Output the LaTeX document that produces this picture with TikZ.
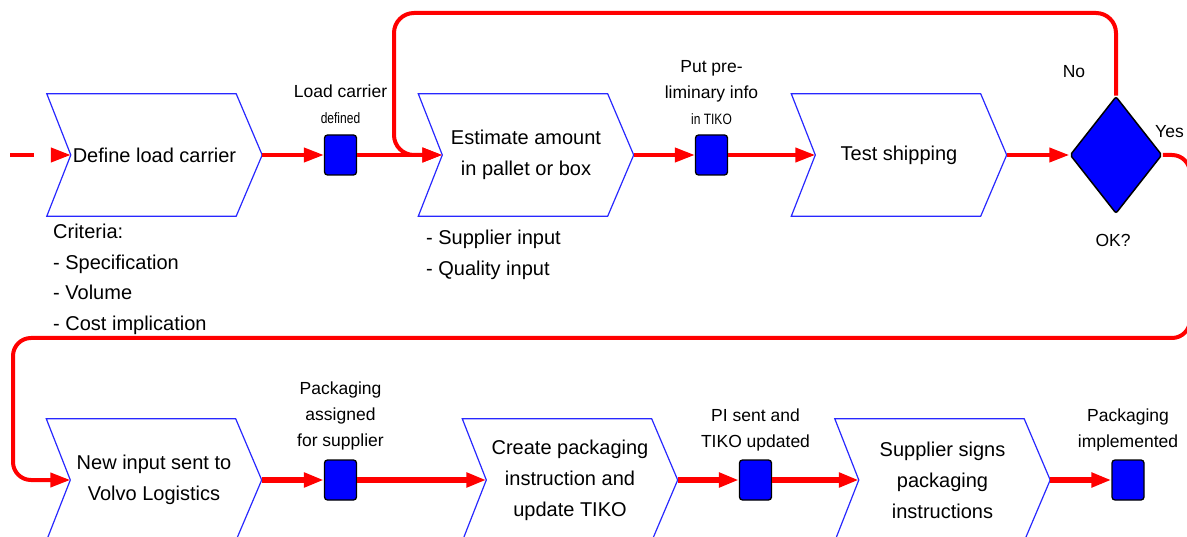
\documentclass[tikz,border=0pt]{standalone}
\usepackage{fontspec}
\usepackage{graphicx}
\setmainfont{Liberation Sans}
\usetikzlibrary{arrows.meta,shapes.geometric}

\definecolor{flowred}{RGB}{255,0,0}
\definecolor{stepblue}{RGB}{0,0,255}
\definecolor{chevblue}{RGB}{40,40,255}

% narrow small line used under some event labels
\newcommand\narrowline[1]{{\fontsize{15}{16}\selectfont\scalebox{0.8}[1]{#1}}}

\tikzset{
  chevtext/.style={minimum width=215pt, minimum height=122pt, inner sep=0pt,
    align=center, font=\fontsize{20}{31}\selectfont},
  chevline/.style={draw=chevblue, line width=1.2pt, line join=miter},
  event/.style={draw=black, fill=stepblue, line width=1.3pt, rounded corners=3pt,
    minimum width=32pt, minimum height=40pt, inner sep=0pt},
  decision/.style={diamond, draw=black, fill=stepblue, line width=1.5pt,
    minimum width=92pt, minimum height=117pt, inner sep=0pt, rounded corners=2pt},
  flow/.style={draw=flowred, line width=4pt, -{Triangle[length=20pt,width=14pt]}},
  flowthick/.style={flow, line width=6pt},
  lbl/.style={font=\fontsize{17.5}{26}\selectfont, align=center, inner sep=0pt},
  note/.style={font=\fontsize{20}{30.5}\selectfont, align=left, inner sep=0pt},
}

% a process step: text node framed by a chevron, with an entry point in its notch
\newcommand\procstep[4]{%
  \node[chevtext] (#1) at (#2,#3) {#4};
  \draw[chevline] (#1.north west) -- ([xshift=-26pt]#1.north east) -- (#1.east)
    -- ([xshift=-26pt]#1.south east) -- (#1.south west) -- ([xshift=24pt]#1.west) -- cycle;
  \coordinate (#1-in) at ([xshift=24pt]#1.west);
}

\begin{document}
\begin{tikzpicture}[x=1pt,y=-1pt]
\useasboundingbox (0,0) rectangle (1187,537);
\clip (0,0) rectangle (1187,537);

% process steps
\procstep{def}{154.5}{155}{Define load carrier}
\procstep{est}{526}{155}{Estimate amount\\in pallet or box}
\procstep{test}{899}{155}{Test shipping}
\procstep{newin}{154}{480}{New input sent to\\Volvo Logistics}
\procstep{create}{570}{480}{Create packaging\\instruction and\\update TIKO}
\procstep{sign}{942.5}{480}{Supplier signs\\packaging\\instructions}

% events
\node[event] (ev1) at (340.5,155) {};
\node[event] (ev2) at (711.5,155) {};
\node[event] (ev3) at (340.5,480) {};
\node[event] (ev4) at (755.5,480) {};
\node[event] (ev5) at (1128,480) {};

% decision
\node[decision] (ok) at (1116,155) {};

% event labels
\node[lbl, anchor=south] (l1) at ([yshift=11pt]ev1.north)
  {Load carrier\\\narrowline{defined}};
\node[lbl, anchor=south] (l2) at ([yshift=10pt]ev2.north)
  {Put pre-\\liminary info\\\narrowline{in TIKO}};
\node[lbl, anchor=south] (l3) at ([yshift=9pt]ev3.north)
  {Packaging\\assigned\\for supplier};
\node[lbl, anchor=south] (l4) at ([yshift=8pt]ev4.north)
  {PI sent and\\TIKO updated};
\node[lbl, anchor=south] (l5) at ([yshift=8pt]ev5.north)
  {Packaging\\implemented};

% decision labels
\node[lbl] (no) at (1074,72) {No};
\node[lbl] (okq) at (1113,240) {OK?};
\node[lbl, anchor=west] (yes) at (1155,132) {Yes};

% notes under the steps
\node[note, anchor=north west] (crit) at (53,224)
  {Criteria:\\- Specification\\- Volume\\- Cost implication};
\node[note, anchor=north west] (inputs) at (426,230)
  {- Supplier input\\- Quality input};

% flow, top row
\coordinate (src) at (10,155);
\draw[flow, dash pattern=on 24pt off 40pt] (src) -- (def-in);
\draw[flow] (def.east) -- (ev1.west);
\draw[flow] (ev1.east) -- (est-in);
\draw[flow] (est.east) -- (ev2.west);
\draw[flow] (ev2.east) -- (test-in);
\draw[flow] (test.east) -- (ok.west);

% "No" loops back to the estimate
\draw[flow, rounded corners=20pt] (ok.north) |- (394,13) -- (394,155) -- (est-in);

% "Yes" continues on the bottom row
\draw[flow, rounded corners=18pt] (ok.east) -- (1190,155) -- (1190,338)
  -- (13,338) -- (13,480) -- (newin-in);

% flow, bottom row
\draw[flowthick] (newin.east) -- (ev3.west);
\draw[flowthick] (ev3.east) -- (create-in);
\draw[flowthick] (create.east) -- (ev4.west);
\draw[flowthick] (ev4.east) -- (sign-in);
\draw[flowthick] (sign.east) -- (ev5.west);
\end{tikzpicture}
\end{document}
